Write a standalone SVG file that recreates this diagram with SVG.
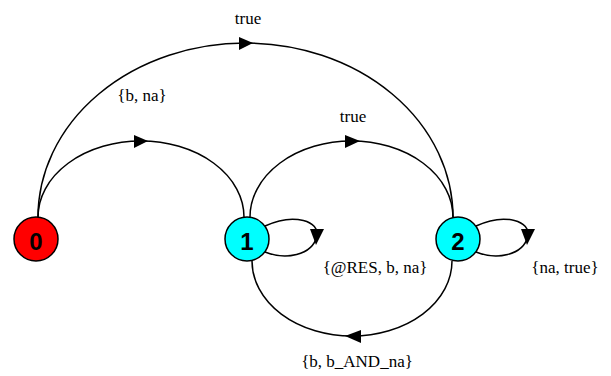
<svg xmlns="http://www.w3.org/2000/svg" width="611" height="376" viewBox="0 0 611 376">
<style>
.edge{fill:none;stroke:#000;stroke-width:1.5}
.ah{fill:#000;stroke:none}
.node{stroke:#000;stroke-width:1.5}
.nl{font-family:"Liberation Sans",Arial,sans-serif;font-weight:bold;font-size:24px;text-anchor:middle;fill:#000}
.el{font-family:"Liberation Serif","Times New Roman",serif;font-size:17px;text-anchor:middle;fill:#000}
</style>
<rect width="611" height="376" fill="#fff"/>
<g id="connectors">
<path class="edge" d="M 38,217 A 207.5,174 0 0 1 453,217"/>
<polygon class="ah" points="239,37 253,43 239,50"/>
<text class="el" x="248" y="24">true</text>
<path class="edge" d="M 38,217 A 103,76 0 0 1 244,217"/>
<polygon class="ah" points="134,135 148,141 134,148"/>
<text class="el" x="142" y="101">{b, na}</text>
<path class="edge" d="M 250,217 A 101.5,76 0 0 1 453,217"/>
<polygon class="ah" points="345,135 360,141 345,148"/>
<text class="el" x="353" y="122">true</text>
<path class="edge" d="M 452,261 A 100,75 0 0 1 252,261"/>
<polygon class="ah" points="361,330 345,336 361,343"/>
<text class="el" x="357" y="367">{b, b_AND_na}</text>
<path class="edge" d="M 265,226 C 295,212 320,222 317,236 C 312,256 285,260 265,252"/>
<polygon class="ah" points="310,229 324,229 316,245"/>
<text class="el" x="375" y="273">{@RES, b, na}</text>
<path class="edge" d="M 476,226 C 506,212 531,222 528,236 C 523,256 496,260 476,252"/>
<polygon class="ah" points="521,229 535,229 527,245"/>
<text class="el" x="565" y="273">{na, true}</text>
</g>
<g id="node0">
<circle class="node" cx="36" cy="239" r="22" fill="#FF0000"/>
<text class="nl" x="36" y="250">0</text>
</g>
<g id="node1">
<circle class="node" cx="247" cy="239" r="22" fill="#00FFFF"/>
<text class="nl" x="247" y="250">1</text>
</g>
<g id="node2">
<circle class="node" cx="458" cy="239" r="22" fill="#00FFFF"/>
<text class="nl" x="458" y="250">2</text>
</g>
</svg>
